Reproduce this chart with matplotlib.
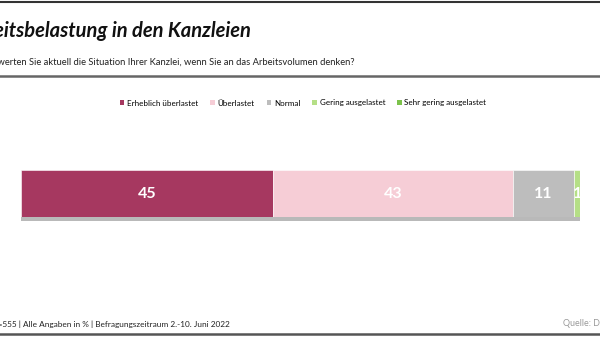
import matplotlib
matplotlib.use("Agg")
import matplotlib.pyplot as plt
from matplotlib.lines import Line2D
from matplotlib.patches import Patch

categories = ["Erheblich überlastet", "Überlastet", "Normal", "Gering ausgelastet", "Sehr gering ausgelastet"]
values = [45, 43, 11, 1, 0]
colors = ["#A63860", "#F6CDD6", "#BDBDBD", "#B5DF86", "#7CC24B"]
title = "Arbeitsbelastung in den Kanzleien"
subtitle = "Wie bewerten Sie aktuell die Situation Ihrer Kanzlei, wenn Sie an das Arbeitsvolumen denken?"
footer = "n=555 | Alle Angaben in % | Befragungszeitraum 2.-10. Juni 2022"
source = "Quelle: DATEV"

plt.rcParams['font.family'] = ['Lato', 'DejaVu Sans']

W, H = 600, 337
fig = plt.figure(figsize=(6, 3.37), dpi=100)
fig.patch.set_facecolor("white")

def fx(px): return px / W
def fy(py): return 1 - py / H

# borders
fig.add_artist(Line2D([0, 1], [fy(2), fy(2)], color="#333333", lw=1.5))
fig.add_artist(Line2D([0, 1], [fy(75.5), fy(75.5)], color="#666666", lw=1.8))
fig.add_artist(Line2D([0, 1], [fy(333.5), fy(333.5)], color="#555555", lw=1.8))

# texts
fig.text(fx(252), fy(31), title, ha="right", va="center", fontsize=14.5,
         fontweight="bold", fontstyle="italic", color="#111111")
fig.text(fx(355), fy(62), subtitle, ha="right", va="center", fontsize=6.75, color="#222222")
fig.text(fx(230), fy(324), footer, ha="right", va="center", fontsize=5.95, color="#222222")
fig.text(fx(563), fy(324), source, ha="left", va="center", fontsize=6.4, color="#9a9a9a")

# bar axes
ax = fig.add_axes([fx(21), fy(217), fx(580) - fx(21), (217 - 170) / H])
ax.set_xlim(0, sum(values))
ax.set_ylim(-0.5, 0.5)
ax.axis("off")

total = sum(values)
ax.barh([-0.54], [total], height=0.08, color="#9c9c9c", alpha=0.7, clip_on=False, zorder=1)
left = 0
for cat, v, c in zip(categories, values, colors):
    if v > 0:
        ax.barh([0], [v], left=left, height=1.0, color=c, edgecolor="white", linewidth=0.4, zorder=2)
        ax.text(left + v / 2, 0, str(v), ha="center", va="center", color="white",
                fontsize=11.5, fontweight="bold", zorder=3)
    left += v

handles = [Patch(facecolor=c, edgecolor="none") for c in colors]
fig.legend(handles, categories, loc="center", bbox_to_anchor=(fx(303), fy(103)), ncol=5,
           frameon=False, fontsize=5.8, handlelength=0.6, handleheight=0.6,
           handletextpad=0.3, columnspacing=1.5)

fig.savefig("out.png", dpi=100)
